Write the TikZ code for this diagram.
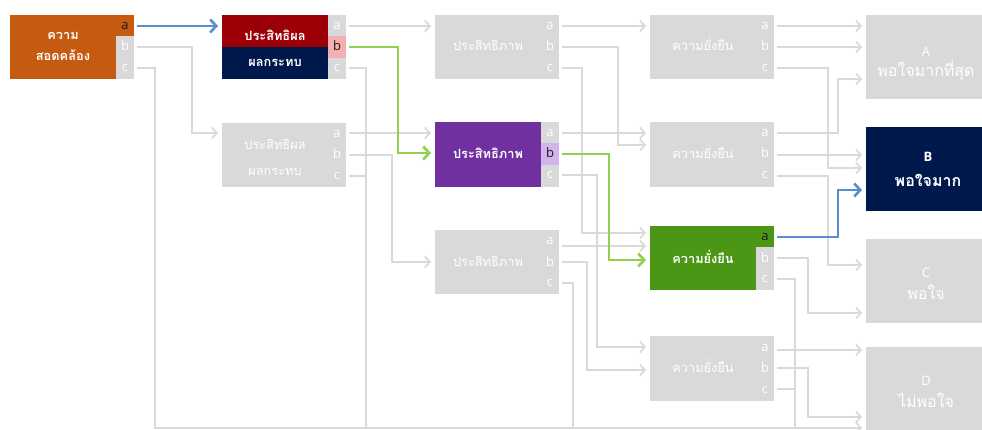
\documentclass[tikz,border=0pt]{standalone}
\usepackage{fontspec}
\setmainfont{Open Sans}
\newfontfamily\thaifont[Script=Thai]{Loma}
\usetikzlibrary{arrows.meta,fit}
\definecolor{lg}{HTML}{D9D9D9}
\definecolor{orng}{HTML}{C55A11}
\definecolor{dred}{HTML}{9C0006}
\definecolor{navy}{HTML}{00194D}
\definecolor{purp}{HTML}{7030A0}
\definecolor{grn}{HTML}{4B9614}
\definecolor{pinkc}{HTML}{F4B0B0}
\definecolor{lavc}{HTML}{D2B4EC}
\definecolor{bluel}{HTML}{5B8FCC}
\definecolor{greenl}{HTML}{92D050}
\definecolor{dk}{HTML}{1A1A1A}
\tikzset{
  rbox/.style={inner sep=0pt, outer sep=0pt, draw=none},
  th/.style={font=\thaifont\fontsize{12.8}{15}\selectfont, text=white, inner sep=0pt, anchor=base},
  thb/.style={th, font=\thaifont\bfseries\fontsize{12.8}{15}\selectfont},
  tho/.style={th, font=\thaifont\fontsize{16}{18}\selectfont},
  thob/.style={th, font=\thaifont\bfseries\fontsize{16}{18}\selectfont},
  lt/.style={font=\fontsize{13}{15}\selectfont, text=white, inner sep=0pt, anchor=base},
  gl/.style={draw=lg, line width=1.7pt},
  ga/.style={gl, -{Straight Barb[length=5pt,width=11pt]}},
  ca/.style={line width=2.6pt, -{Straight Barb[length=6pt,width=13pt]}},
}
\begin{document}
\begin{tikzpicture}[x=1pt,y=-1pt]
\useasboundingbox (0,0) rectangle (982,430);
\clip (0,0) rectangle (982,430);
\fill[white] (0,0) rectangle (982,430);
% ---------- boxes ----------
\node[rbox, fill=lg, fit={(10,15) (134,79)}] (k1) {};
\node[rbox, fill=orng, fit={(10,15) (116,79)}] (k1m) {};
\node[rbox, fill=orng, fit={(116,15) (134,36.3)}] (k1sa) {};
\node[rbox, fill=lg, fit={(222,15) (346,79)}] (c2t) {};
\node[rbox, fill=dred, fit={(222,15) (328,47)}] (c2tr) {};
\node[rbox, fill=navy, fit={(222,47) (328,79)}] (c2tn) {};
\node[rbox, fill=pinkc, fit={(328,36.3) (346,57.7)}] (c2tsb) {};
\node[rbox, fill=lg, fit={(222,123) (346,187)}] (c2l) {};
\node[rbox, fill=lg, fit={(435,15) (559,79)}] (c3t) {};
\node[rbox, fill=lg, fit={(435,122) (559,187)}] (c3p) {};
\node[rbox, fill=purp, fit={(435,122) (541,187)}] (c3pm) {};
\node[rbox, fill=lavc, fit={(541,143.3) (559,164.7)}] (c3psb) {};
\node[rbox, fill=lg, fit={(435,230) (559,294)}] (c3b) {};
\node[rbox, fill=lg, fit={(650,15) (774,79)}] (c4t) {};
\node[rbox, fill=lg, fit={(650,122) (774,187)}] (c4s) {};
\node[rbox, fill=lg, fit={(650,226) (774,290)}] (c4g) {};
\node[rbox, fill=grn, fit={(650,226) (756,290)}] (c4gm) {};
\node[rbox, fill=grn, fit={(756,226) (774,247.3)}] (c4gsa) {};
\node[rbox, fill=lg, fit={(650,336) (774,401)}] (c4b) {};
\node[rbox, fill=lg, fit={(866,15) (982,99)}] (oA) {};
\node[rbox, fill=navy, fit={(866,127) (982,211)}] (oB) {};
\node[rbox, fill=lg, fit={(866,239) (982,323)}] (oC) {};
\node[rbox, fill=lg, fit={(866,347) (982,440)}] (oD) {};
% ---------- box texts ----------
\node[thb] (t1a) at (63,40) {ความ};
\node[thb] (t1b) at (63,61) {สอดคล้อง};
\node[thb] (t2a) at (275,41) {ประสิทธิผล};
\node[thb] (t2b) at (275,67) {ผลกระทบ};
\node[th] (t3a) at (275,150) {ประสิทธิผล};
\node[th] (t3b) at (275,176) {ผลกระทบ};
\node[th] (t4) at (488,51) {ประสิทธิภาพ};
\node[thb] (t5) at (488,159) {ประสิทธิภาพ};
\node[th] (t6) at (488,266) {ประสิทธิภาพ};
\node[th] (t7) at (703,51) {ความยั่งยืน};
\node[th] (t8) at (703,159) {ความยั่งยืน};
\node[thb] (t9) at (703,264) {ความยั่งยืน};
\node[th] (t10) at (703,372) {ความยั่งยืน};
\node[lt] (tAl) at (926,57) {A};
\node[tho] (tA) at (926,77) {พอใจมากที่สุด};
\node[lt, font=\bfseries\fontsize{13}{15}\selectfont] (tBl) at (928,162) {B};
\node[thob] (tB) at (928,187) {พอใจมาก};
\node[lt] (tCl) at (926,277) {C};
\node[tho] (tC) at (926,299) {พอใจ};
\node[lt] (tDl) at (926,385) {D};
\node[tho] (tD) at (926,407) {ไม่พอใจ};
% ---------- strip letters ----------
\foreach \n/\x/\t/\ca/\cb/\cc in {
  k1/125/15/dk/white/white, c2t/337/15/white/dk/white, c2l/337/123/white/white/white,
  c3t/550/15/white/white/white, c3p/550/122/white/dk/white, c3b/550/230/white/white/white,
  c4t/765/15/white/white/white, c4s/765/122/white/white/white, c4g/765/226/dk/white/white,
  c4b/765/336/white/white/white}{
  \node[lt, text=\ca] (\n-la) at (\x,\t+15) {a};
  \node[lt, text=\cb] (\n-lb) at (\x,\t+36) {b};
  \node[lt, text=\cc] (\n-lc) at (\x,\t+57) {c};
}
% ---------- ports ----------
\coordinate (k1a) at (137,26); \coordinate (k1b) at (137,47); \coordinate (k1c) at (137,68);
\coordinate (c2ta) at (349,26); \coordinate (c2tb) at (349,47); \coordinate (c2tc) at (349,68);
\coordinate (c2la) at (349,133); \coordinate (c2lb) at (349,155); \coordinate (c2lc) at (349,176);
\coordinate (c3ta) at (562,26); \coordinate (c3tb) at (562,47); \coordinate (c3tc) at (562,68);
\coordinate (c3pa) at (562,133); \coordinate (c3pb) at (562,154); \coordinate (c3pc) at (562,175);
\coordinate (c3ba) at (562,246); \coordinate (c3bb) at (562,262); \coordinate (c3bc) at (562,283);
\coordinate (c4ta) at (777,26); \coordinate (c4tb) at (777,47); \coordinate (c4tc) at (777,68);
\coordinate (c4sa) at (777,133); \coordinate (c4sb) at (777,155); \coordinate (c4sc) at (777,176);
\coordinate (c4ga) at (777,237); \coordinate (c4gb) at (777,258); \coordinate (c4gc) at (777,279);
\coordinate (c4ba) at (777,350); \coordinate (c4bb) at (777,368); \coordinate (c4bc) at (777,389);
% inputs
\coordinate (c2t-in) at (218,26); \coordinate (c2l-in) at (218,133);
\coordinate (c3t-in) at (431,26); \coordinate (c3p-in1) at (431,133); \coordinate (c3p-in2) at (431,153);
\coordinate (c3b-in) at (431,262);
\coordinate (c4t-in) at (646,26); \coordinate (c4s-in1) at (646,133); \coordinate (c4s-in2) at (646,145);
\coordinate (c4g-in1) at (646,233); \coordinate (c4g-in2) at (646,246); \coordinate (c4g-in3) at (646,260);
\coordinate (c4b-in1) at (646,347); \coordinate (c4b-in2) at (646,370);
\coordinate (A-in1) at (862,26); \coordinate (A-in2) at (862,47); \coordinate (A-in3) at (862,79);
\coordinate (B-in1) at (862,155); \coordinate (B-in2) at (862,168); \coordinate (B-in3) at (862,190);
\coordinate (C-in1) at (862,265); \coordinate (C-in2) at (862,313);
\coordinate (D-in1) at (862,350); \coordinate (D-in2) at (862,417); \coordinate (D-in3) at (862,428);
\coordinate (j155) at (155,428); \coordinate (j366) at (366,428);
\coordinate (j573) at (573,428); \coordinate (j795) at (795,428);
% ---------- gray connectors ----------
\draw[ga] (k1b) -- ++(55,0) |- (c2l-in);
\draw[ga] (k1c) -| (j155) -- (D-in3);
\draw[ga] (c2ta) -- (c3t-in);
\draw[gl] (c2tc) -| (j366);
\draw[ga] (c2la) -- (c3p-in1);
\draw[ga] (c2lb) -- ++(43,0) |- (c3b-in);
\draw[gl] (c2lc) -- (c2lc -| j366);
\draw[ga] (c3ta) -- (c4t-in);
\draw[ga] (c3tb) -- ++(56,0) |- (c4s-in2);
\draw[ga] (c3tc) -- ++(20,0) |- (c4g-in1);
\draw[ga] (c3pa) -- (c4s-in1);
\draw[ga] (c3pc) -- ++(35,0) |- (c4b-in1);
\draw[ga] (c3ba) -- (c4g-in2);
\draw[ga] (c3bb) -- ++(25,0) |- (c4b-in2);
\draw[gl] (c3bc) -| (j573);
\draw[ga] (c4ta) -- (A-in1);
\draw[ga] (c4tb) -- (A-in2);
\draw[ga] (c4tc) -- ++(51,0) |- (B-in2);
\draw[ga] (c4sa) -- ++(61,0) |- (A-in3);
\draw[ga] (c4sb) -- (B-in1);
\draw[ga] (c4sc) -- ++(51,0) |- (C-in1);
\draw[ga] (c4gb) -- ++(31,0) |- (C-in2);
\draw[gl] (c4gc) -| (j795);
\draw[ga] (c4ba) -- (D-in1);
\draw[ga] (c4bb) -- ++(31,0) |- (D-in2);
\draw[gl] (c4bc) -- (c4bc -| j795);
% ---------- highlighted path ----------
\draw[ca, draw=bluel] (k1a) -- (c2t-in);
\draw[ca, draw=greenl] (c2tb) -- ++(49,0) |- (c3p-in2);
\draw[ca, draw=greenl] (c3pb) -- ++(47,0) |- (c4g-in3);
\draw[ca, draw=bluel] (c4ga) -- ++(61,0) |- (B-in3);
\end{tikzpicture}
\end{document}
